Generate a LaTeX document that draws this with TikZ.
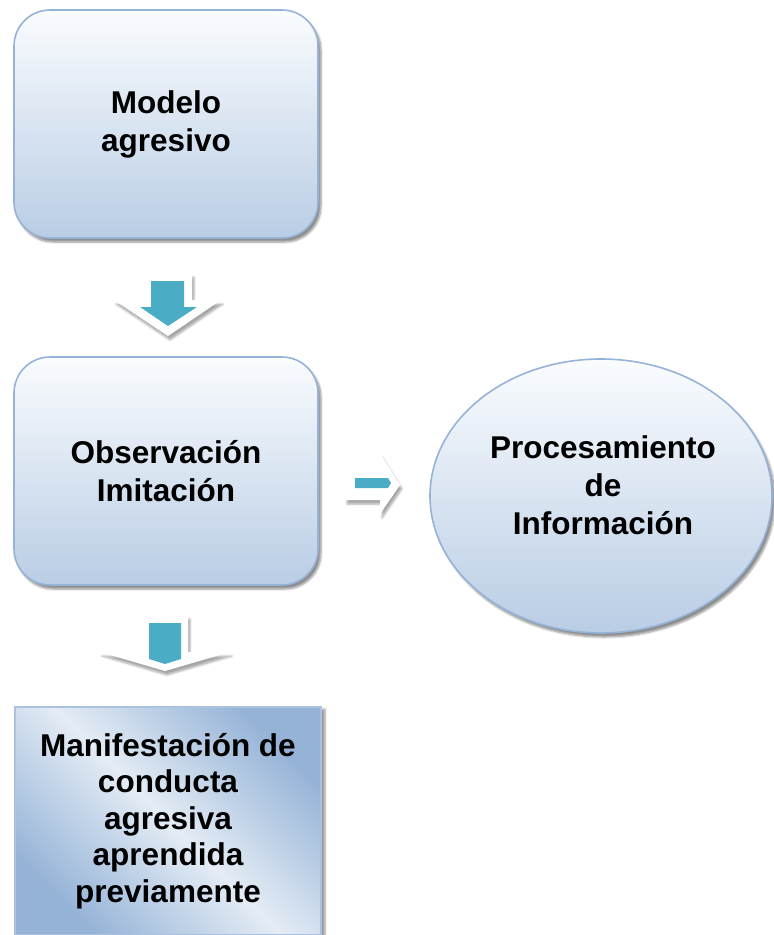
\documentclass[tikz,border=0pt]{standalone}
\usepackage{fontspec}
\setmainfont{Liberation Sans}
\usetikzlibrary{shapes.geometric,shadows.blur}
\definecolor{bordblue}{HTML}{95B3D7}
\definecolor{lightfill}{HTML}{FAFCFE}
\definecolor{darkfill}{HTML}{B9CDE5}
\definecolor{arrowblue}{HTML}{4BACC6}
\definecolor{diagdark}{HTML}{95B3D7}
\definecolor{diagmid}{HTML}{E4ECF5}
\tikzset{
  lbl/.style={font=\bfseries\fontsize{31.5}{38}\selectfont, align=center, text=black},
  rbox/.style={lbl, draw=bordblue, line width=1.6pt, rounded corners=36pt,
    top color=lightfill, bottom color=darkfill,
    minimum width=304pt, minimum height=228pt,
    blur shadow={shadow xshift=3pt, shadow yshift=-4pt, shadow blur steps=6, shadow opacity=45}},
  ebox/.style={ellipse, draw=bordblue, line width=1.6pt,
    top color=lightfill, bottom color=darkfill,
    minimum width=342pt, minimum height=274pt,
    blur shadow={shadow xshift=3pt, shadow yshift=-4pt, shadow blur steps=6, shadow opacity=45}},
  sbox/.style={lbl, draw=bordblue!80, line width=1.2pt,
    top color=diagdark, bottom color=diagdark, middle color=diagmid, shading angle=-45,
    minimum width=306pt, minimum height=228pt, inner sep=0pt,
    blur shadow={shadow xshift=4pt, shadow yshift=-2pt, shadow blur steps=5, shadow opacity=40}},
  arrowout/.style={fill=white,
    blur shadow={shadow xshift=2pt, shadow yshift=-4pt, shadow blur steps=5, shadow opacity=35}},
  arrowin/.style={fill=arrowblue}
}
\begin{document}
\begin{tikzpicture}[x=1pt,y=-1pt]
\useasboundingbox (0,0) rectangle (774,935);
% boxes
\node[rbox] (modelo) at (166,124) {Modelo\\agresivo};
\node[rbox] (obs) at (166,471) {Observación\\Imitación};
\node[ebox] (proc) at (601,496) {};
\node[lbl] (proclbl) at (603,485) {Procesamiento\\de\\Información};
\node[sbox, font=\bfseries\fontsize{31.5}{36.5}\selectfont] (manif) at (168,821) {Manifestación de\\conducta\\agresiva\\aprendida\\previamente};
% down arrow 1
\path[arrowout] (143,273) -- (192,273) -- (192,300) -- (221,300) -- (168,336) -- (114,300) -- (143,300) -- cycle;
\path[arrowin] (151,281) -- (184,281) -- (184,307) -- (197,307) -- (168,326) -- (140,307) -- (151,307) -- cycle;
% down arrow 2
\path[arrowout] (142,615) -- (188,615) -- (188,652) -- (230,652) -- (165,671) -- (100,652) -- (142,652) -- cycle;
\path[arrowin] (149,623) -- (181,623) -- (181,659) -- (165,664) -- (149,659) -- cycle;
% right arrow
\path[arrowout] (345,470) -- (380,470) -- (380,453) -- (400,485) -- (380,514) -- (380,500) -- (345,500) -- cycle;
\path[arrowin] (355,478) -- (388,478) -- (391,483) -- (388,488) -- (355,488) -- cycle;
\end{tikzpicture}
\end{document}
